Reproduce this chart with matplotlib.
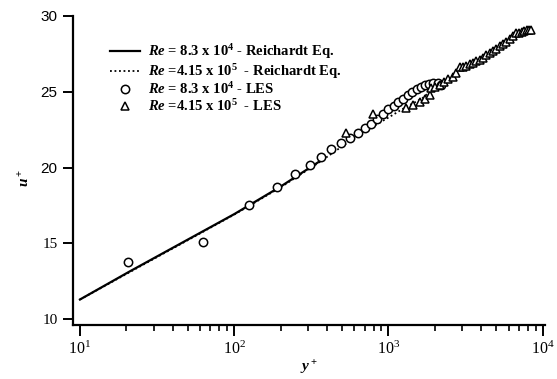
import matplotlib
matplotlib.use('Agg')
import matplotlib.pyplot as plt
from matplotlib.ticker import LogLocator, NullFormatter

plt.rcParams['font.family'] = 'Liberation Serif'
plt.rcParams['mathtext.fontset'] = 'custom'
plt.rcParams['mathtext.rm'] = 'Liberation Serif:bold'
plt.rcParams['mathtext.it'] = 'Liberation Serif:italic:bold'
plt.rcParams['mathtext.bf'] = 'Liberation Serif:bold'

# Reichardt eq. lines
yp_solid = [10, 21, 100, 200, 350]
up_solid = [11.3, 13.15, 16.93, 18.75, 20.35]

yp_dot = [10, 100, 200, 350, 650, 1000, 1300, 1650, 2000]
up_dot = [11.3, 16.9, 18.7, 20.3, 22.2, 23.3, 24.0, 24.55, 25.3]

# LES, Re = 8.3e4
yp_les1 = [20.5, 63, 125, 188, 247, 309, 367, 427, 490, 560, 630, 700, 770, 840,
           920, 1000, 1080, 1160, 1250, 1340, 1430, 1520, 1620, 1720, 1830, 1950,
           2080, 2200]
up_les1 = [13.8, 15.1, 17.55, 18.7, 19.55, 20.2, 20.7, 21.2, 21.6, 21.95, 22.3,
           22.6, 22.9, 23.2, 23.5, 23.85, 24.05, 24.3, 24.55, 24.8, 25.0, 25.15,
           25.3, 25.42, 25.5, 25.55, 25.55, 25.45]

# LES, Re = 4.15e5
yp_les2 = [533, 795, 1300, 1450, 1590, 1720, 1850, 1900, 2000, 2150, 2300, 2430,
           2600, 2750, 2890, 3050, 3200, 3360, 3530, 3710, 3900, 4100, 4310, 4520,
           4750, 5000, 5250, 5520, 5800, 6100, 6400, 6700, 7000, 7300, 7600, 7850,
           8100, 8400]
up_les2 = [22.3, 23.5, 23.9, 24.1, 24.35, 24.55, 24.8, 25.25, 25.3, 25.45, 25.65,
           25.85, 26.0, 26.25, 26.6, 26.6, 26.7, 26.8, 26.9, 27.0, 27.1, 27.25,
           27.45, 27.55, 27.7, 27.85, 28.0, 28.15, 28.3, 28.5, 28.7, 28.85, 28.9,
           28.95, 29.0, 29.05, 29.05, 29.1]

y_ticks = [10, 15, 20, 25, 30]

fig = plt.figure(figsize=(5.57, 3.79), dpi=100)
ax = fig.add_axes([0.131, 0.1425, 0.847, 0.8155])

ax.plot(yp_dot, up_dot, color='black', linestyle=(0, (1, 1.5)), lw=1.3,
        label='$Re$ =4.15 x 10$^5$  - Reichardt Eq.')
ax.plot(yp_solid, up_solid, color='black', lw=1.6,
        label='$Re$ = 8.3 x 10$^4$ - Reichardt Eq.')
ax.plot(yp_les1, up_les1, linestyle='none', marker='o', ms=6, mfc='white',
        mec='black', mew=1.1, label='$Re$ = 8.3 x 10$^4$ - LES')
ax.plot(yp_les2, up_les2, linestyle='none', marker='^', ms=6, mfc='white',
        mec='black', mew=1.1, label='$Re$ =4.15 x 10$^5$  - LES')

ax.set_xscale('log')
ax.set_xlim(9.01, 10300)
ax.set_ylim(9.62, 30)
ax.set_yticks(y_ticks)
ax.xaxis.set_minor_locator(LogLocator(base=10, subs=range(2, 10)))
ax.xaxis.set_minor_formatter(NullFormatter())

for s in ['top', 'right']:
    ax.spines[s].set_visible(False)
for s in ['left', 'bottom']:
    ax.spines[s].set_linewidth(1.6)

ax.tick_params(axis='x', which='major', direction='out', length=8, width=1.4,
               labelsize=11.5, pad=3)
ax.tick_params(axis='x', which='minor', direction='out', length=4.5, width=1.2)
ax.tick_params(axis='y', which='major', direction='out', length=7, width=1.4,
               labelsize=11, pad=4)

fig.canvas.draw()
for lab in ax.get_yticklabels():
    if lab.get_text() in ('20', '25', '30'):
        lab.set_family('Liberation Sans')

ax.set_xlabel('$y^+$', fontsize=11)
ax.xaxis.set_label_coords(0.5, -0.11)
ax.set_ylabel('$u^+$', fontsize=11)
ax.yaxis.set_label_coords(-0.085, 0.476)

handles, labels = ax.get_legend_handles_labels()
order = [1, 0, 2, 3]
ax.legend([handles[i] for i in order], [labels[i] for i in order],
          loc='upper left', bbox_to_anchor=(0.078, 0.915), frameon=False,
          borderaxespad=0, borderpad=0, handlelength=2.1,
          handletextpad=0.55, labelspacing=0.05,
          prop={'weight': 'bold', 'size': 10.5})

fig.savefig('out.png', dpi=100)
